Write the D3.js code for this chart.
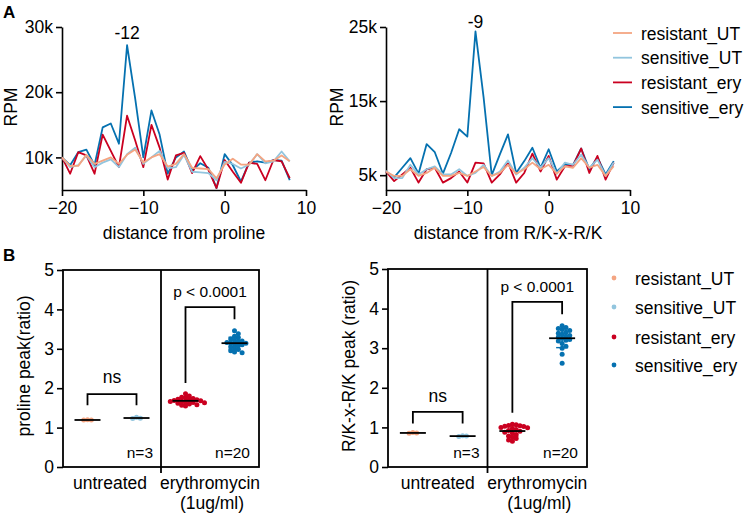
<!DOCTYPE html>
<html><head><meta charset="utf-8">
<script src="https://cdn.jsdelivr.net/npm/d3@7"></script>
<style>
body{margin:0;background:#fff}
text{font-family:"Liberation Sans",Arial,sans-serif;fill:#000}
</style>
</head><body><svg id="c" width="748" height="518"></svg>
<script>
// ---------------- DATA ----------------
const positions = [-20,-19,-18,-17,-16,-15,-14,-13,-12,-11,-10,-9,-8,-7,-6,-5,-4,-3,-2,-1,0,1,2,3,4,5,6,7,8];
const seriesNames = ["resistant_UT","sensitive_UT","resistant_ery","sensitive_ery"];
const seriesColors = ["#f4a582","#92c5de","#ca0020","#0571b0"];

// Panel A left: distance from proline (RPM)
const proResUT  = [10000,8700,8700,10400,9000,9500,10000,9000,10400,11200,9200,10000,10500,8600,9000,10500,8400,8300,8200,6800,8900,9800,8900,8900,10500,9400,9500,10300,9400];
const proSensUT = [10000,8500,8800,10300,8500,9200,9700,8500,10500,11500,9000,10000,11000,8300,8500,10400,7800,7700,7600,6500,9300,9000,8300,8900,10500,9100,9400,10900,9400];
const proResEry = [10000,7500,10800,10300,7500,13500,11000,8500,16400,12600,8500,15000,11500,6600,10300,10700,7600,10200,8100,5300,9600,7800,6100,9200,9000,6500,9600,9400,6800];
const proSensEry= [10000,8800,10800,11200,8800,14600,15200,12100,27200,19000,10000,17200,13500,7500,10000,10900,8000,9100,8400,5300,10500,8800,6300,9200,9400,9200,9600,9500,6500];

// Panel A right: distance from R/K-x-R/K (RPM)
const rkResUT  = [5500,4900,4900,5800,4900,5300,6000,4900,4900,5300,4900,5500,6100,4900,5300,6400,5200,5800,6700,5800,6400,5200,6200,6000,7300,6000,6400,4900,6200];
const rkSensUT = [5600,4600,4600,6400,5100,5800,6200,5100,5100,5800,4900,5300,6400,4900,5500,7000,5100,6000,7300,6000,7300,5200,6700,6400,7800,6000,7100,4900,6700];
const rkResEry = [5500,4200,5100,6000,4000,5800,6000,4000,4600,5500,4000,6700,6600,4000,5100,6700,4000,5300,7900,5500,7600,4400,6200,6300,8600,5300,7600,4400,6700];
const rkSensEry= [5500,4700,6000,7300,5200,9200,8100,5200,8000,11200,10200,24400,15500,5000,7800,10500,5300,6900,8700,6000,8500,5500,6500,6400,8600,5800,7400,5100,6900];

// Panel B: peak ratios
const groups = ["resistant_UT","sensitive_UT","resistant_ery","sensitive_ery"];
const proPeak = [
  [1.19,1.19,1.20],
  [1.23,1.26,1.24],
  [1.55,1.57,1.58,1.60,1.62,1.63,1.64,1.65,1.66,1.67,1.68,1.69,1.70,1.71,1.72,1.74,1.75,1.77,1.80,1.86],
  [2.90,2.92,2.95,2.98,3.02,3.05,3.08,3.10,3.12,3.14,3.15,3.16,3.18,3.20,3.22,3.25,3.28,3.32,3.38,3.46]
];
const rkPeak = [
  [0.86,0.87,0.85],
  [0.77,0.79,0.78],
  [0.65,0.68,0.72,0.75,0.78,0.82,0.86,0.88,0.90,0.92,0.95,0.97,0.99,1.00,1.02,1.03,1.04,1.05,1.07,1.08],
  [2.62,2.85,3.00,3.05,3.12,3.18,3.20,3.22,3.25,3.28,3.30,3.32,3.35,3.38,3.40,3.45,3.47,3.50,3.52,3.57]
];
const conditionLabels = ["untreated", "erythromycin", "(1ug/ml)"];
const pText = "p < 0.0001";
const nsText = "ns";
const nLabels = ["n=3","n=20"];

// ---------------- DRAW ----------------
const svg = d3.select("#c");
const FS = 17.5;

svg.append("text").attr("x",3).attr("y",18).attr("font-size",17).attr("font-weight","bold").text("A");
svg.append("text").attr("x",3).attr("y",261).attr("font-size",17).attr("font-weight","bold").text("B");

function lineChart(opt){
  const x = d3.scaleLinear().domain([-20,10]).range([opt.x0,opt.x1]);
  const y = d3.scaleLinear().domain(opt.yDomain).range([190,27]);
  const g = svg.append("g");
  const xa = g.append("g").attr("transform","translate(0,190)")
    .call(d3.axisBottom(x).tickValues([-20,-10,0,10]).tickSize(6).tickSizeOuter(0).tickPadding(6));
  const ya = g.append("g").attr("transform",`translate(${opt.x0},0)`)
    .call(d3.axisLeft(y).tickValues(opt.yTicks).tickSize(6).tickSizeOuter(0).tickPadding(3).tickFormat(d=>d/1000+"k"));
  [xa,ya].forEach(a=>{
    a.selectAll("path,line").attr("stroke","#000").attr("stroke-width",1.6);
    a.selectAll("text").attr("font-size",FS).attr("font-family",'"Liberation Sans",Arial,sans-serif');
  });
  const line = d3.line().x((d,i)=>x(positions[i])).y(d=>y(d));
  const order = [3,2,1,0];
  order.forEach(k=>{
    g.append("path").datum(opt.series[k]).attr("d",line)
      .attr("fill","none").attr("stroke",seriesColors[k]).attr("stroke-width",1.8).attr("stroke-linejoin","round");
  });
  g.append("text")
    .attr("transform",`translate(${opt.ylabX},107) rotate(-90)`)
    .attr("text-anchor","middle").attr("font-size",FS).text("RPM");
  g.append("text").attr("x",(opt.x0+opt.x1)/2).attr("y",239).attr("text-anchor","middle")
    .attr("font-size",FS).text(opt.xlabel);
  g.append("text").attr("x",x(opt.peakX)).attr("y",opt.peakLabY).attr("text-anchor","middle")
    .attr("font-size",FS).text(String(opt.peakX));
}

lineChart({x0:62,x1:306,yDomain:[5000,30000],yTicks:[10000,20000,30000],
  series:[proResUT,proSensUT,proResEry,proSensEry],xlabel:"distance from proline",
  ylabX:17,peakX:-12,peakLabY:39});
lineChart({x0:386,x1:630,yDomain:[3000,25000],yTicks:[5000,15000,25000],
  series:[rkResUT,rkSensUT,rkResEry,rkSensEry],xlabel:"distance from R/K-x-R/K",
  ylabX:343,peakX:-9,peakLabY:28});

// legend A
const legA = svg.append("g");
seriesNames.forEach((n,i)=>{
  const yy = 33 + i*24.7;
  legA.append("line").attr("x1",613).attr("x2",632).attr("y1",yy).attr("y2",yy)
    .attr("stroke",seriesColors[i]).attr("stroke-width",1.8);
  legA.append("text").attr("x",641).attr("y",yy+6.5).attr("font-size",FS).text(n);
});

// Panel B
function swarm(vals, y, cx){
  const pts = vals.map(v=>({v, py:y(v)})).sort((a,b)=>a.py-b.py);
  const placed = [];
  const step = 3.8;
  const minD = 3.8;
  pts.forEach(p=>{
    for(let k=0;k<40;k++){
      const off = k===0?0:(k%2?1:-1)*Math.ceil(k/2)*step;
      const px = cx+off;
      if(!placed.some(q=>Math.hypot(q.px-px,q.py-p.py)<minD)){ p.px=px; placed.push(p); break; }
    }
  });
  return placed;
}

function dotPlot(opt){
  const g = svg.append("g");
  const x = d3.scaleBand().domain(groups).range([opt.x0,opt.x1]);
  const y = d3.scaleLinear().domain([0,5]).range([467,opt.yTop]);
  const ya = g.append("g").attr("transform",`translate(${opt.x0},0)`)
    .call(d3.axisLeft(y).tickValues([0,1,2,3,4,5]).tickSize(6).tickPadding(3).tickFormat(d3.format("d")));
  ya.select(".domain").remove();
  ya.selectAll("line").attr("stroke","#000").attr("stroke-width",1.6);
  ya.selectAll("text").attr("font-size",FS).attr("font-family",'"Liberation Sans",Arial,sans-serif');
  const mid = (opt.x0+opt.x1)/2;
  g.append("rect").attr("x",opt.x0).attr("y",opt.yTop).attr("width",opt.x1-opt.x0).attr("height",467-opt.yTop)
    .attr("fill","none").attr("stroke","#000").attr("stroke-width",1.8);
  g.append("line").attr("x1",mid).attr("x2",mid).attr("y1",opt.yTop).attr("y2",473)
    .attr("stroke","#000").attr("stroke-width",1.8);

  opt.data.forEach((vals,i)=>{
    const cx = x(groups[i])+x.bandwidth()/2;
    const pts = swarm(vals,y,cx);
    g.selectAll(null).data(pts).enter().append("circle")
      .attr("cx",d=>d.px).attr("cy",d=>d.py).attr("r",2.5).attr("fill",seriesColors[i]);
    const m = d3.mean(vals), sd = d3.deviation(vals);
    [[m-sd,m+sd]].forEach(([lo,hi])=>{
      g.append("line").attr("x1",cx).attr("x2",cx).attr("y1",y(lo)).attr("y2",y(hi))
        .attr("stroke",seriesColors[i]).attr("stroke-width",1.4);
      [lo,hi].forEach(v=>g.append("line").attr("x1",cx-6).attr("x2",cx+6).attr("y1",y(v)).attr("y2",y(v))
        .attr("stroke",seriesColors[i]).attr("stroke-width",1.4));
    });
    g.append("line").attr("x1",cx-13).attr("x2",cx+13).attr("y1",y(m)).attr("y2",y(m))
      .attr("stroke","#000").attr("stroke-width",1.8);
  });
  const cxs = groups.map(gg=>x(gg)+x.bandwidth()/2);
  const nb = opt.nsBr;
  g.append("path").attr("d",`M${cxs[0]},${y(nb[1])}V${y(nb[0])}H${cxs[1]}V${y(nb[1])}`)
    .attr("fill","none").attr("stroke","#000").attr("stroke-width",1.8);
  g.append("text").attr("x",(cxs[0]+cxs[1])/2).attr("y",opt.nsY).attr("text-anchor","middle").attr("font-size",FS).text(nsText);
  const pb = opt.pBr;
  g.append("path").attr("d",`M${cxs[2]},${y(pb[1])}V${y(pb[0])}H${cxs[3]}V${y(pb[2])}`)
    .attr("fill","none").attr("stroke","#000").attr("stroke-width",1.8);
  g.append("text").attr("x",(cxs[2]+cxs[3])/2).attr("y",opt.pY).attr("text-anchor","middle").attr("font-size",15.5).text(pText);
  g.append("text").attr("x",mid-8).attr("y",458).attr("text-anchor","end").attr("font-size",15.5).text(nLabels[0]);
  g.append("text").attr("x",opt.x1-9).attr("y",458).attr("text-anchor","end").attr("font-size",15.5).text(nLabels[1]);
  g.append("text").attr("x",(opt.x0+mid)/2+(opt.utDx||0)).attr("y",489).attr("text-anchor","middle").attr("font-size",FS).text(conditionLabels[0]);
  g.append("text").attr("x",(mid+opt.x1)/2+(opt.eryDx||0)).attr("y",489).attr("text-anchor","middle").attr("font-size",FS).text(conditionLabels[1]);
  g.append("text").attr("x",(mid+opt.x1)/2+(opt.eryDx||0)+2).attr("y",509).attr("text-anchor","middle").attr("font-size",FS).text(conditionLabels[2]);
  g.append("text").attr("transform",`translate(${opt.ylabX},366) rotate(-90)`).attr("text-anchor","middle")
    .attr("font-size",FS).text(opt.ylabel);
}

dotPlot({x0:63,x1:259,yTop:270,data:proPeak,nsBr:[1.85,1.57],nsY:383,pBr:[4.06,2.13,3.75],pY:297,
  ylabel:"proline peak(ratio)",ylabX:30,utDx:-2,eryDx:0});
dotPlot({x0:388,x1:587,yTop:269,data:rkPeak,nsBr:[1.39,1.1],nsY:402,pBr:[4.17,1.37,3.86],pY:292,
  ylabel:"R/K-x-R/K peak (ratio)",ylabX:355,utDx:0,eryDx:0});

// legend B
const legB = svg.append("g");
const legBY = [278,307,337,365];
seriesNames.forEach((n,i)=>{
  legB.append("circle").attr("cx",614).attr("cy",legBY[i]).attr("r",2.4).attr("fill",seriesColors[i]);
  legB.append("text").attr("x",635).attr("y",legBY[i]+7).attr("font-size",FS).text(n);
});
</script>
</body></html>
